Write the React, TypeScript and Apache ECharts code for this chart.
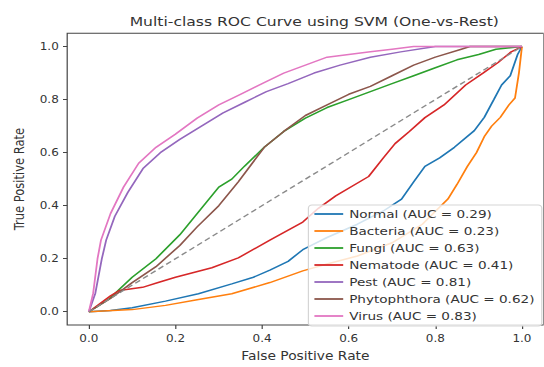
import React, { useEffect, useRef } from "react";
import * as echarts from "echarts";

const titleText = "Multi-class ROC Curve using SVM (One-vs-Rest)";
const xTicks = [0, 0.2, 0.4, 0.6, 0.8, 1.0];
const yTicks = [0, 0.2, 0.4, 0.6, 0.8, 1.0];

const classNames = [
  "Normal (AUC = 0.29)",
  "Bacteria (AUC = 0.23)",
  "Fungi (AUC = 0.63)",
  "Nematode (AUC = 0.41)",
  "Pest (AUC = 0.81)",
  "Phytophthora (AUC = 0.62)",
  "Virus (AUC = 0.83)",
];
const classColors = ["#1f77b4", "#ff7f0e", "#2ca02c", "#d62728", "#9467bd", "#8c564b", "#e377c2"];

const normalRoc = [[0,0],[0.05,0.005],[0.1,0.015],[0.177,0.04],[0.253,0.068],[0.33,0.105],[0.38,0.13],[0.418,0.157],[0.46,0.19],[0.494,0.234],[0.55,0.28],[0.62,0.33],[0.68,0.38],[0.722,0.425],[0.75,0.49],[0.776,0.548],[0.81,0.58],[0.844,0.62],[0.89,0.683],[0.913,0.733],[0.935,0.8],[0.953,0.855],[0.973,0.89],[0.99,0.97],[1,1]];
const bacteriaRoc = [[0,0],[0.1,0.008],[0.177,0.024],[0.25,0.045],[0.33,0.068],[0.418,0.11],[0.494,0.154],[0.55,0.18],[0.62,0.21],[0.7,0.26],[0.77,0.33],[0.829,0.425],[0.85,0.48],[0.874,0.548],[0.895,0.6],[0.913,0.66],[0.93,0.7],[0.95,0.733],[0.97,0.78],[0.984,0.806],[0.993,0.9],[1,1]];
const fungiRoc = [[0,0],[0.02,0.02],[0.048,0.05],[0.1,0.13],[0.155,0.2],[0.21,0.29],[0.25,0.37],[0.3,0.47],[0.33,0.5],[0.36,0.55],[0.405,0.62],[0.45,0.68],[0.5,0.73],[0.55,0.77],[0.6,0.8],[0.65,0.83],[0.7,0.86],[0.75,0.89],[0.8,0.92],[0.85,0.95],[0.9,0.97],[0.94,0.99],[1,1]];
const nematodeRoc = [[0,0],[0.025,0.03],[0.05,0.06],[0.07,0.08],[0.124,0.092],[0.16,0.11],[0.2,0.13],[0.284,0.166],[0.345,0.203],[0.418,0.27],[0.494,0.338],[0.53,0.39],[0.57,0.437],[0.646,0.51],[0.68,0.58],[0.707,0.634],[0.74,0.68],[0.776,0.732],[0.82,0.78],[0.87,0.855],[0.91,0.9],[0.945,0.94],[0.975,0.98],[1,1]];
const pestRoc = [[0,0],[0.015,0.07],[0.03,0.2],[0.04,0.27],[0.06,0.36],[0.09,0.45],[0.125,0.54],[0.165,0.6],[0.21,0.65],[0.26,0.7],[0.31,0.75],[0.36,0.79],[0.41,0.83],[0.46,0.86],[0.52,0.9],[0.58,0.93],[0.65,0.96],[0.72,0.98],[0.8,1],[1,1]];
const phytophthoraRoc = [[0,0],[0.05,0.05],[0.1,0.11],[0.155,0.17],[0.21,0.25],[0.25,0.32],[0.3,0.4],[0.345,0.49],[0.405,0.62],[0.45,0.68],[0.5,0.74],[0.55,0.78],[0.6,0.82],[0.65,0.85],[0.7,0.89],[0.75,0.93],[0.8,0.96],[0.86,0.99],[0.88,1],[1,1]];
const virusRoc = [[0,0],[0.01,0.07],[0.02,0.2],[0.028,0.27],[0.05,0.37],[0.08,0.47],[0.115,0.56],[0.155,0.62],[0.2,0.67],[0.25,0.73],[0.3,0.78],[0.35,0.82],[0.4,0.86],[0.45,0.9],[0.5,0.93],[0.55,0.96],[0.6,0.97],[0.65,0.98],[0.7,0.99],[0.75,1],[1,1]];
const chanceLine = [[0,0],[1,1]];

const curves = [normalRoc, bacteriaRoc, fungiRoc, nematodeRoc, pestRoc, phytophthoraRoc, virusRoc];

const SX = 1.2;
const FONT = "DejaVu Sans";
const TXT = "#333";

export default function App() {
  const ref = useRef<HTMLDivElement>(null);
  useEffect(() => {
    if (!ref.current) return;
    const chart = echarts.init(ref.current, null, { renderer: "svg" });
    const series: any[] = curves.map((d, i) => ({
      name: classNames[i],
      type: "line",
      data: d,
      symbol: "none",
      showSymbol: false,
      color: classColors[i],
      lineStyle: { width: 1.5, color: classColors[i] },
      z: 2,
    }));
    series.push({
      name: "chance",
      type: "line",
      data: chanceLine,
      symbol: "none",
      showSymbol: false,
      color: "#888",
      lineStyle: { width: 1.3, color: "#8a8a8a", type: [5, 3] },
      z: 3,
    });
    const axisCommon = {
      type: "value",
      min: -0.05,
      max: 1.05,
      axisLine: { show: false, onZero: false },
      splitLine: { show: false },
      nameLocation: "middle",
      nameTextStyle: { fontFamily: FONT, fontSize: 11.5, color: TXT },
    };
    chart.setOption({
      animation: false,
      backgroundColor: "#ffffff",
      title: {
        text: titleText,
        left: 256.9,
        top: 10,
        textAlign: "center",
        textStyle: { fontFamily: FONT, fontSize: 13, fontWeight: "normal", color: TXT },
      },
      grid: {
        left: 56,
        top: 33.3,
        width: 402,
        height: 299.2,
        show: true,
        borderColor: "#444",
        borderWidth: 1,
        backgroundColor: "transparent",
      },
      xAxis: {
        ...axisCommon,
        name: "False Positive Rate",
        nameGap: 25,
        axisTick: { show: true, customValues: xTicks, length: 4, lineStyle: { color: "#444" } },
        axisLabel: {
          customValues: xTicks,
          formatter: (v: number) => v.toFixed(1),
          margin: 9,
          fontFamily: FONT,
          fontSize: 10,
          color: TXT,
        },
      },
      yAxis: {
        ...axisCommon,
        name: "True Positive Rate",
        nameGap: 28,
        axisTick: { show: true, customValues: yTicks, length: 3.5, lineStyle: { color: "#444" } },
        axisLabel: {
          customValues: yTicks,
          formatter: (v: number) => v.toFixed(1),
          margin: 7,
          fontFamily: FONT,
          fontSize: 10,
          color: TXT,
        },
      },
      legend: {
        data: classNames,
        orient: "vertical",
        left: 257,
        top: 205,
        padding: [3, 6, 4, 5],
        itemGap: 5,
        itemWidth: 24,
        itemHeight: 1.8,
        icon: "rect",
        backgroundColor: "rgba(255,255,255,0.8)",
        borderColor: "#d5d5d5",
        borderWidth: 1,
        borderRadius: 3,
        textStyle: { fontFamily: FONT, fontSize: 11.3, color: TXT, lineHeight: 12 },
      },
      series,
    });
    return () => chart.dispose();
  }, []);
  return (
    <div style={{ position: "fixed", left: 0, top: 0, width: 544, height: 367, overflow: "hidden", background: "#fff" }}>
      <div
        ref={ref}
        style={{
          width: 544 / SX,
          height: 367,
          transform: `scaleX(${SX})`,
          transformOrigin: "0 0",
        }}
      />
    </div>
  );
}
